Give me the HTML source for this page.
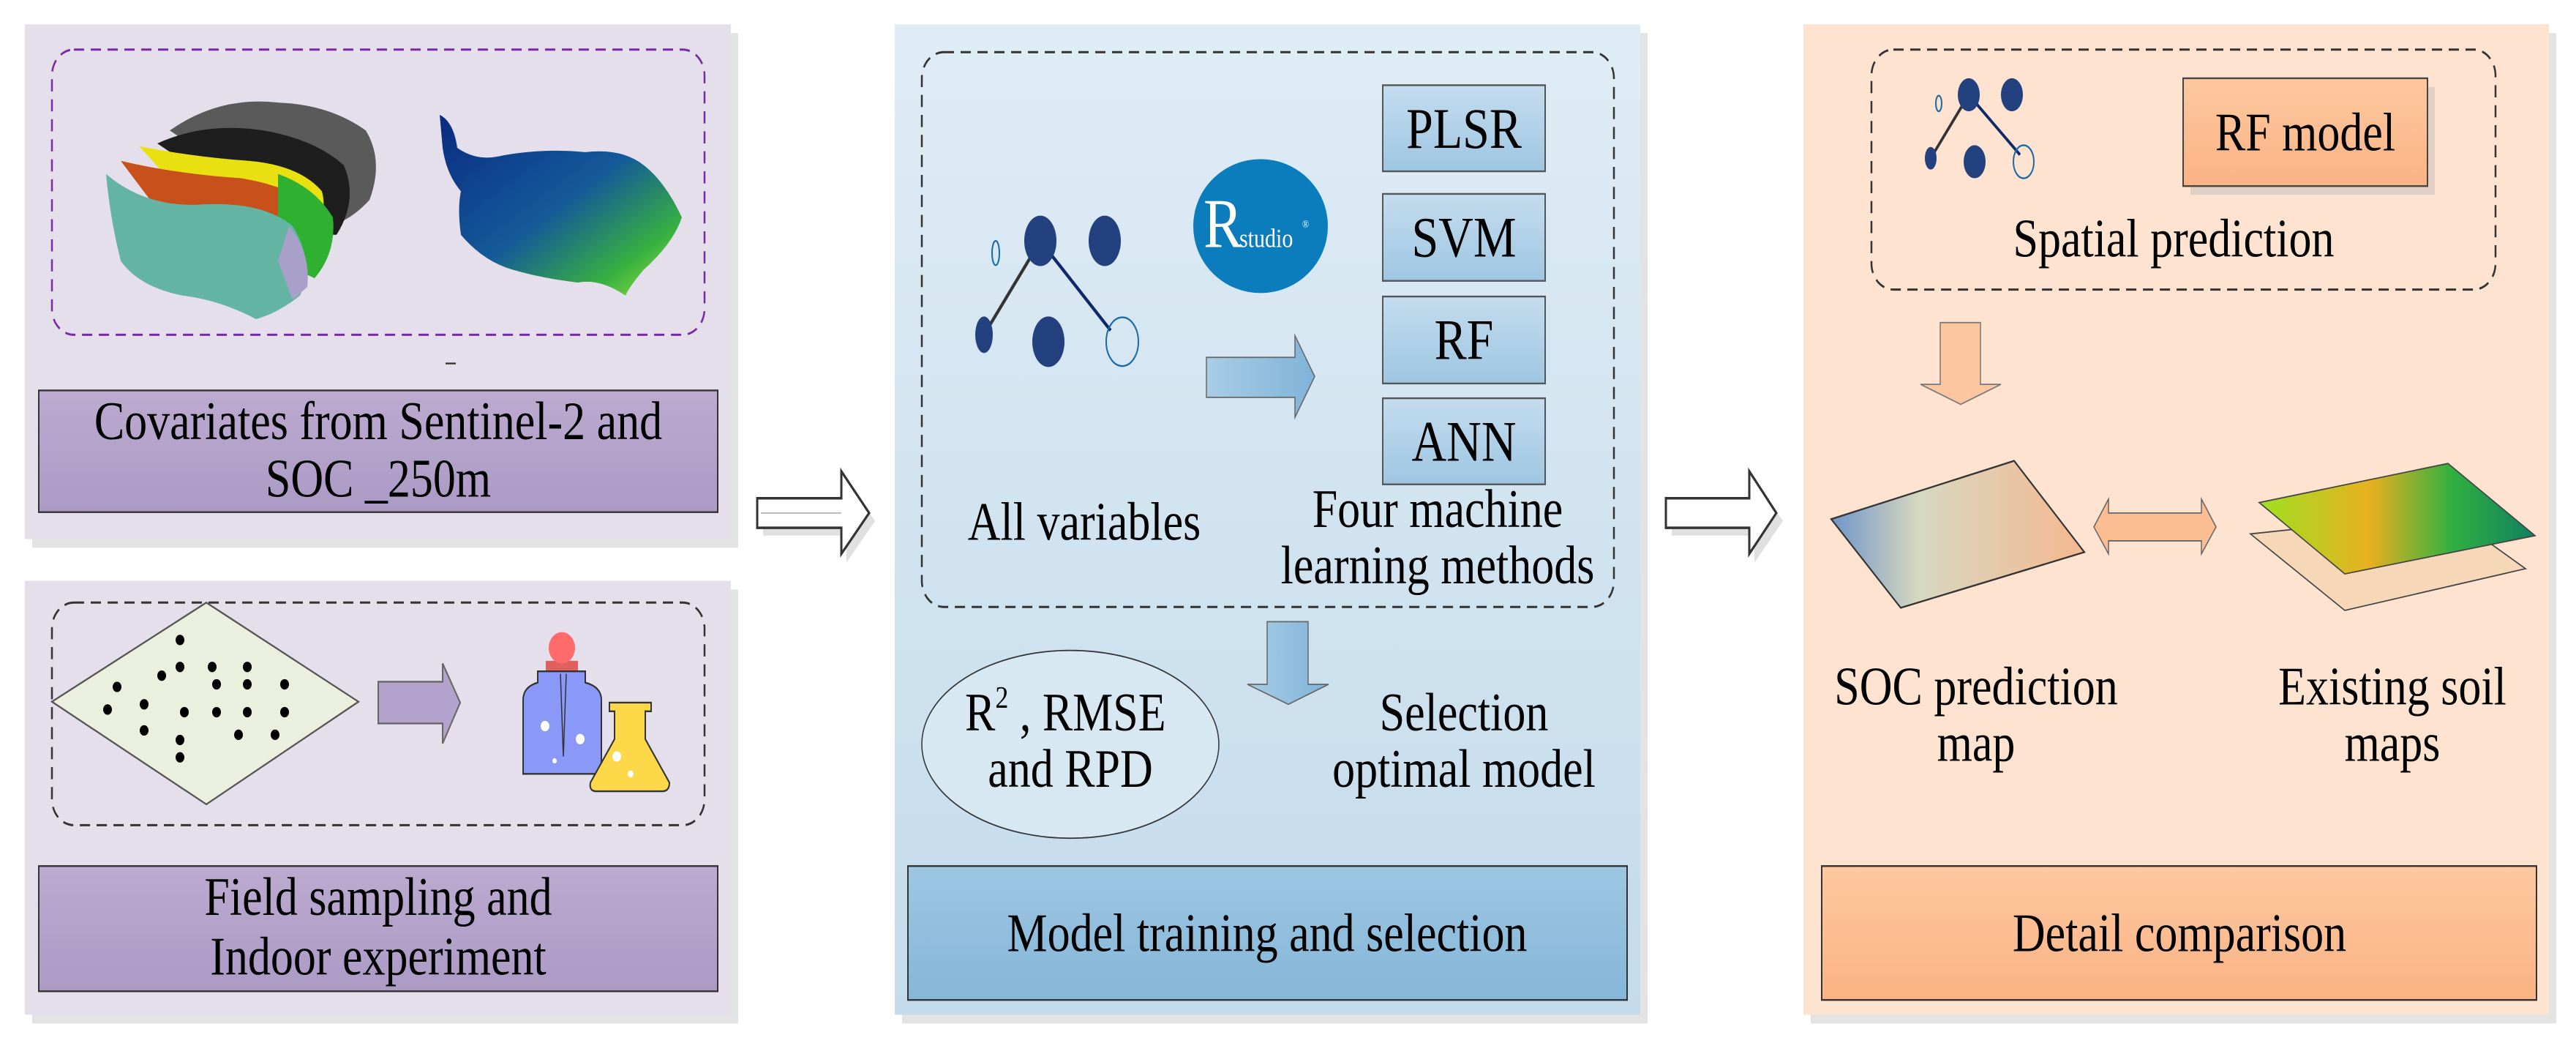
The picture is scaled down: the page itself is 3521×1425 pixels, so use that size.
<!DOCTYPE html>
<html><head><meta charset="utf-8"><style>
html,body{margin:0;padding:0;background:#fff;}
svg{display:block;}
text{font-family:"Liberation Serif","Times New Roman",serif;fill:#000;}
</style></head><body>
<svg width="3521" height="1425" viewBox="0 0 3521 1425" xmlns="http://www.w3.org/2000/svg" font-family="Liberation Serif, serif">
<defs>
<linearGradient id="gBlue" x1="0" y1="0" x2="0" y2="1"><stop offset="0" stop-color="#dfecf5"/><stop offset="1" stop-color="#c4dbeb"/></linearGradient>
<linearGradient id="gBlueBox" x1="0" y1="0" x2="0" y2="1"><stop offset="0" stop-color="#c4dcee"/><stop offset="1" stop-color="#9ec6e2"/></linearGradient>
<linearGradient id="gBlueLab" x1="0" y1="0" x2="0" y2="1"><stop offset="0" stop-color="#9dc6e2"/><stop offset="1" stop-color="#85b6d8"/></linearGradient>
<linearGradient id="gPur" x1="0" y1="0" x2="0" y2="1"><stop offset="0" stop-color="#bcaad0"/><stop offset="1" stop-color="#ab9ac4"/></linearGradient>
<linearGradient id="gOr" x1="0" y1="0" x2="0" y2="1"><stop offset="0" stop-color="#fdc8a0"/><stop offset="1" stop-color="#fab384"/></linearGradient>
<linearGradient id="gArrB" x1="0" y1="0" x2="1" y2="0"><stop offset="0" stop-color="#a8cde6"/><stop offset="1" stop-color="#7fb3d8"/></linearGradient>
<linearGradient id="gMap1" x1="0" y1="0" x2="1" y2="0"><stop offset="0" stop-color="#6f95c8"/><stop offset="0.35" stop-color="#d8d8c0"/><stop offset="1" stop-color="#f4b890"/></linearGradient>
<linearGradient id="gMap2" x1="0" y1="0" x2="1" y2="0"><stop offset="0" stop-color="#9ee020"/><stop offset="0.4" stop-color="#e8b020"/><stop offset="0.7" stop-color="#30b040"/><stop offset="1" stop-color="#108060"/></linearGradient>
<linearGradient id="gMapR" x1="0" y1="0" x2="1" y2="1"><stop offset="0" stop-color="#0a2a80"/><stop offset="0.5" stop-color="#145a9a"/><stop offset="0.8" stop-color="#38b040"/><stop offset="1" stop-color="#a0e840"/></linearGradient>
</defs>
<g transform="scale(1,1.188)">
<!-- Panel 1 -->
<rect x="44" y="38" width="965" height="592" fill="#e3e3e3"/>
<rect x="34" y="28" width="965" height="592" fill="#e5dfec"/>
<rect x="71" y="57" width="892" height="328" rx="30" fill="none" stroke="#7a2aa8" stroke-width="2.5" stroke-dasharray="14 9"/>
<path d="M232,150 Q300,110 380,118 Q450,120 500,150 Q525,185 505,230 Q470,262 430,262 Z" fill="#5a5a5a"/>
<path d="M215,165 Q280,140 360,150 Q430,160 470,190 Q490,230 460,270 L400,270 Z" fill="#1e1e1e"/>
<path d="M190,168 Q260,180 340,185 Q410,190 440,220 Q450,250 420,280 L300,270 Z" fill="#e8e010"/>
<path d="M165,185 Q240,200 330,205 Q400,215 430,240 Q440,275 410,300 L250,280 Z" fill="#c8501a"/>
<path d="M380,200 Q430,215 455,250 Q460,290 430,320 L380,300 Z" fill="#30b030"/>
<path d="M145,200 Q200,240 280,235 Q360,232 400,260 Q430,300 410,340 Q380,360 350,367 Q300,345 250,340 Q190,330 165,300 Q150,250 145,200 Z" fill="#64b4a4"/>
<path d="M395,260 Q425,290 420,330 L400,345 L380,300 Z" fill="#a8a0c8"/>
<path d="M601,132 Q620,140 625,170 Q650,185 680,180 Q740,170 800,175 Q850,170 880,190 Q910,210 932,250 Q920,280 880,310 Q860,330 855,340 Q820,320 790,325 Q740,320 700,310 Q660,300 630,270 Q625,240 630,220 Q610,200 605,170 Z" fill="url(#gMapR)"/>
<rect x="609" y="417" width="14" height="2" fill="#333"/>
<rect x="53" y="449" width="928" height="140" fill="url(#gPur)" stroke="#333" stroke-width="2"/>
<text x="517" y="505" font-size="62" text-anchor="middle">Covariates from Sentinel-2 and</text>
<text x="517" y="571" font-size="62" text-anchor="middle">SOC _250m</text>

<!-- Panel 1b -->
<rect x="44" y="678" width="965" height="499" fill="#e3e3e3"/>
<rect x="34" y="668" width="965" height="499" fill="#e5dfec"/>
<rect x="71" y="693" width="892" height="256" rx="30" fill="none" stroke="#333" stroke-width="2.5" stroke-dasharray="14 9"/>
<polygon points="71,807 282,693 490,807 282,925" fill="#ebf0de" stroke="#555" stroke-width="2"/>
<g fill="#000">
<circle cx="246" cy="736" r="6"/><circle cx="246" cy="767" r="6"/><circle cx="221" cy="777" r="6"/><circle cx="290" cy="767" r="6"/><circle cx="338" cy="767" r="6"/>
<circle cx="160" cy="790" r="6"/><circle cx="296" cy="787" r="6"/><circle cx="338" cy="787" r="6"/><circle cx="389" cy="787" r="6"/>
<circle cx="147" cy="816" r="6"/><circle cx="197" cy="810" r="6"/><circle cx="252" cy="819" r="6"/><circle cx="296" cy="819" r="6"/><circle cx="338" cy="819" r="6"/><circle cx="389" cy="819" r="6"/>
<circle cx="197" cy="840" r="6"/><circle cx="326" cy="845" r="6"/><circle cx="376" cy="845" r="6"/><circle cx="246" cy="851" r="6"/><circle cx="246" cy="871" r="6"/>
</g>
<polygon points="517,784 605,784 605,763 629,808 605,855 605,832 517,832" fill="#b2a2cc" stroke="#666" stroke-width="2"/>
<rect x="746" y="760" width="44" height="12" fill="#e06060"/>
<circle cx="768" cy="745" r="18" fill="#ff6b6b"/>
<path d="M735,772 L800,772 L800,785 Q822,790 822,805 L822,890 L715,890 L715,805 Q715,790 735,785 Z" fill="#8a98f8" stroke="#333" stroke-width="2"/>
<path d="M766,775 L770,870 L774,775" fill="none" stroke="#333" stroke-width="1.5"/>
<circle cx="745" cy="835" r="6" fill="#fff"/><circle cx="793" cy="850" r="6" fill="#fff"/><circle cx="758" cy="875" r="3" fill="#fff"/>
<path d="M833,808 L890,808 L890,818 L882,818 L882,850 L915,900 Q915,910 905,910 L815,910 Q805,910 807,900 L840,850 L840,818 L833,818 Z" fill="#fdd94a" stroke="#333" stroke-width="2"/>
<circle cx="843" cy="870" r="6" fill="#fff"/><circle cx="862" cy="890" r="4" fill="#fff"/>
<rect x="53" y="996" width="928" height="144" fill="url(#gPur)" stroke="#333" stroke-width="2"/>
<text x="517" y="1052" font-size="62" text-anchor="middle">Field sampling and</text>
<text x="517" y="1121" font-size="62" text-anchor="middle">Indoor experiment</text>

<!-- Arrow 1 hollow -->
<polygon points="1043,582 1157,582 1157,552 1196,599 1157,647 1157,616 1043,616" fill="#e0e0e0"/>
<polygon points="1035,573 1150,573 1150,542 1188,590 1150,637 1150,607 1035,607" fill="#fff" stroke="#333" stroke-width="3"/>
<polyline points="1040,590 1150,590" stroke="#888" stroke-width="1" fill="none"/>

<!-- Panel 2 -->
<rect x="1233" y="38" width="1019" height="1139" fill="#e3e3e3"/>
<rect x="1223" y="28" width="1019" height="1139" fill="url(#gBlue)"/>
<rect x="1260" y="60" width="946" height="638" rx="30" fill="none" stroke="#333" stroke-width="2.5" stroke-dasharray="14 9"/>
<line x1="1422" y1="277" x2="1345" y2="385" stroke="#333" stroke-width="4"/>
<line x1="1422" y1="277" x2="1518" y2="380" stroke="#0e2a6a" stroke-width="4"/>
<g fill="#23417e">
<ellipse cx="1422" cy="277" rx="22" ry="29"/><ellipse cx="1510" cy="277" rx="22" ry="29"/><ellipse cx="1433" cy="393" rx="22" ry="29"/><ellipse cx="1345" cy="385" rx="12" ry="21"/>
</g>
<ellipse cx="1534" cy="393" rx="22" ry="28" fill="none" stroke="#1a6aa8" stroke-width="2"/>
<ellipse cx="1361" cy="291" rx="5" ry="14" fill="none" stroke="#1a6aa8" stroke-width="2"/>
<ellipse cx="1723" cy="260" rx="92" ry="77" fill="#0b7dbd"/>
<text x="1645" y="284" font-size="80" style="fill:#fff">R</text>
<text x="1694" y="284" font-size="30" style="fill:#fff">studio</text>
<text x="1780" y="262" font-size="12" style="fill:#fff">®</text>
<polygon points="1649,411 1770,411 1770,386 1797,433 1770,480 1770,457 1649,457" fill="url(#gArrB)" stroke="#666" stroke-width="1.5"/>
<g stroke="#555" stroke-width="2" fill="url(#gBlueBox)">
<rect x="1890" y="98" width="222" height="99"/><rect x="1890" y="223" width="222" height="100"/><rect x="1890" y="341" width="222" height="100"/><rect x="1890" y="458" width="222" height="99"/>
</g>
<g font-size="66" text-anchor="middle">
<text x="2001" y="170">PLSR</text><text x="2001" y="295">SVM</text><text x="2001" y="413">RF</text><text x="2001" y="530">ANN</text>
</g>
<text x="1482" y="621" font-size="62" text-anchor="middle">All variables</text>
<text x="1965" y="606" font-size="62" text-anchor="middle">Four machine</text>
<text x="1965" y="671" font-size="62" text-anchor="middle">learning methods</text>
<polygon points="1732,715 1788,715 1788,787 1816,787 1761,810 1705,787 1732,787" fill="url(#gArrB)" stroke="#666" stroke-width="1.5"/>
<ellipse cx="1463" cy="856" rx="203" ry="108" fill="#d8e8f2" stroke="#333" stroke-width="1.5"/>
<text x="1319" y="840" font-size="62">R<tspan font-size="36" dy="-26">2</tspan><tspan dy="26"> , RMSE</tspan></text>
<text x="1463" y="905" font-size="62" text-anchor="middle">and RPD</text>
<text x="2001" y="840" font-size="62" text-anchor="middle">Selection</text>
<text x="2001" y="905" font-size="62" text-anchor="middle">optimal model</text>
<rect x="1241" y="996" width="983" height="154" fill="url(#gBlueLab)" stroke="#333" stroke-width="2"/>
<text x="1732" y="1094" font-size="62" text-anchor="middle">Model  training and selection</text>

<!-- Arrow 2 hollow -->
<polygon points="2285,582 2398,582 2398,552 2437,599 2398,647 2398,616 2285,616" fill="#e0e0e0"/>
<polygon points="2277,573 2391,573 2391,542 2428,590 2391,637 2391,607 2277,607" fill="#fff" stroke="#333" stroke-width="3"/>

<!-- Panel 3 -->
<rect x="2475" y="38" width="1019" height="1139" fill="#e3e3e3"/>
<rect x="2465" y="28" width="1019" height="1139" fill="#fde3d0"/>
<rect x="2558" y="57" width="853" height="276" rx="30" fill="none" stroke="#333" stroke-width="2.5" stroke-dasharray="14 9"/>
<line x1="2691" y1="109" x2="2639" y2="182" stroke="#333" stroke-width="3.5"/>
<line x1="2691" y1="109" x2="2761" y2="178" stroke="#0e2a6a" stroke-width="3.5"/>
<g fill="#23417e">
<ellipse cx="2691" cy="109" rx="15" ry="19"/><ellipse cx="2750" cy="109" rx="15" ry="19"/><ellipse cx="2699" cy="186" rx="15" ry="19"/><ellipse cx="2639" cy="182" rx="8" ry="13"/>
</g>
<ellipse cx="2766" cy="186" rx="14" ry="19" fill="none" stroke="#1a6aa8" stroke-width="2"/>
<ellipse cx="2650" cy="119" rx="4" ry="9" fill="none" stroke="#1a6aa8" stroke-width="2"/>
<rect x="2994" y="100" width="334" height="124" fill="#e3d0c4"/>
<rect x="2984" y="90" width="334" height="124" fill="url(#gOr)" stroke="#444" stroke-width="2"/>
<text x="3151" y="173" font-size="62" text-anchor="middle">RF model</text>
<text x="2971" y="295" font-size="62" text-anchor="middle">Spatial prediction</text>
<polygon points="2652,371 2707,371 2707,442 2735,442 2680,465 2625,442 2652,442" fill="#fbc6a0" stroke="#777" stroke-width="1.5"/>
<polygon points="2503,597 2753,530 2849,635 2598,699" fill="url(#gMap1)" stroke="#333" stroke-width="2"/>
<polygon points="2862,606 2882,574 2882,590 3009,590 3009,574 3029,606 3009,637 3009,622 2882,622 2882,637" fill="#fbbd92" stroke="#666" stroke-width="1.5"/>
<polygon points="3076,614 3205,702 3452,654 3346,590" fill="#f6d8b8" stroke="#444" stroke-width="1.5"/>
<polygon points="3088,578 3346,533 3465,616 3205,660" fill="url(#gMap2)" stroke="#444" stroke-width="1.5"/>
<text x="2701" y="810" font-size="62" text-anchor="middle">SOC prediction</text>
<text x="2701" y="875" font-size="62" text-anchor="middle">map</text>
<text x="3270" y="810" font-size="62" text-anchor="middle">Existing soil</text>
<text x="3270" y="875" font-size="62" text-anchor="middle">maps</text>
<rect x="2490" y="996" width="977" height="154" fill="url(#gOr)" stroke="#333" stroke-width="2"/>
<text x="2979" y="1094" font-size="62" text-anchor="middle">Detail comparison</text>
</g>
</svg>
</body></html>
